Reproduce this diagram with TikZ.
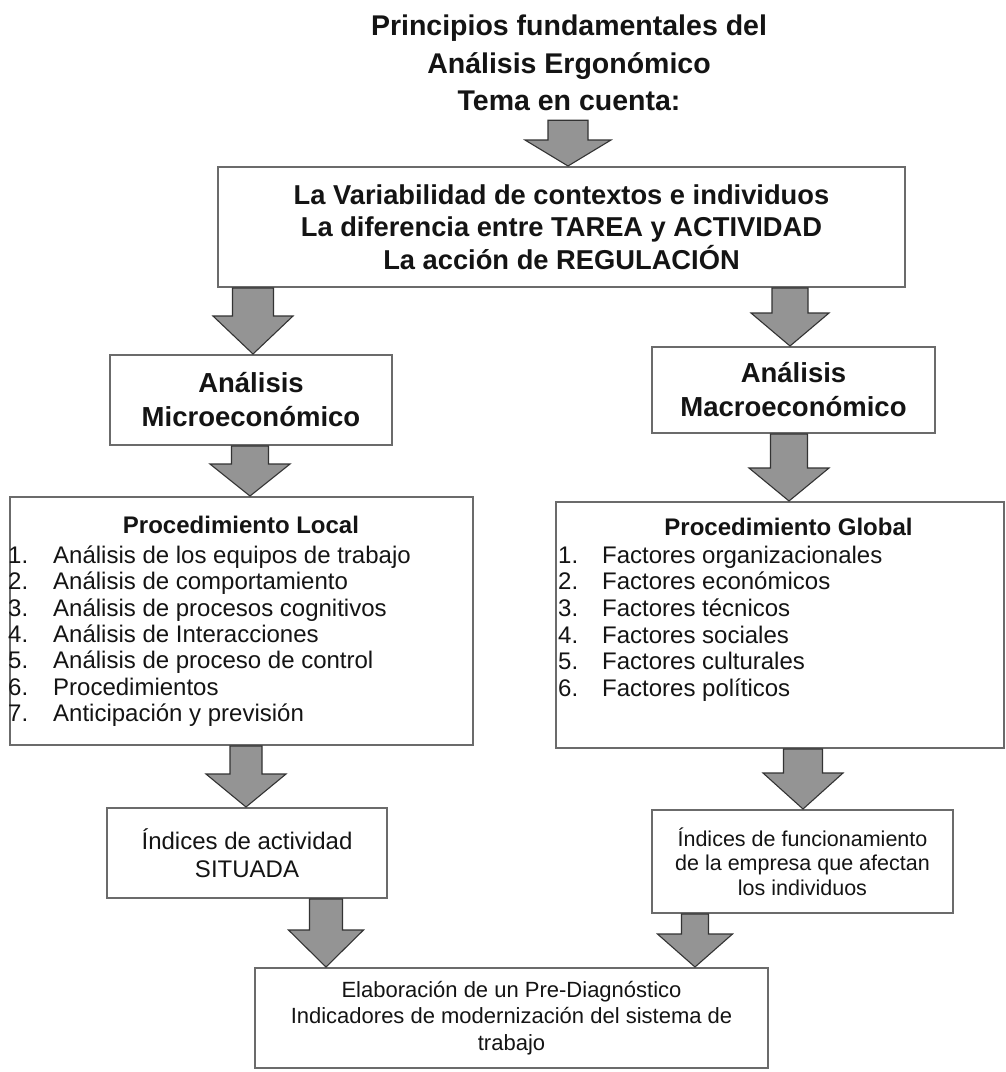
\documentclass[tikz,border=0pt]{standalone}
\usepackage{fontspec}
\setmainfont{Liberation Sans}
\usetikzlibrary{calc}

% font sizes (1pt = 1 unit of the picture)
\newcommand\titlefont{\fontsize{28.5}{37.5}\selectfont\bfseries}
\newcommand\topfont{\fontsize{27.3}{32.5}\selectfont\bfseries}
\newcommand\anafont{\fontsize{27.5}{34}\selectfont\bfseries}
\newcommand\headfont{\fontsize{24}{26}\selectfont\bfseries}
\newcommand\itemfont{\fontsize{24}{26.3}\selectfont}
\newcommand\idxfont{\fontsize{24}{28}\selectfont}
\newcommand\idxsmallfont{\fontsize{21.5}{24.5}\selectfont}
\newcommand\botfont{\fontsize{22}{26.5}\selectfont}

\tikzset{
  frame/.style={draw=black!58, line width=2pt, fill=white, inner sep=0pt,
                align=center, text=black!92},
  fatarrowstyle/.style={fill=black!42, draw=black!80, line width=1.1pt, line join=miter},
  txt/.style={inner sep=0pt, anchor=base west, text=black!92},
  ttl/.style={inner sep=0pt, anchor=base, font=\titlefont, text=black!92},
}

% block arrow from the bottom of node #1 to the top of node #2
% #3 axis x, #4 half shaft width, #5 half head width, #6 head length
\newcommand\fatarrow[6]{%
  \filldraw[fatarrowstyle] let \p1=(#1.south), \p2=(#2.north) in
    ({#3pt-#4pt},\y1) -- ({#3pt+#4pt},\y1) -- ({#3pt+#4pt},{\y2+#6pt})
    -- ({#3pt+#5pt},{\y2+#6pt}) -- (#3pt,\y2) -- ({#3pt-#5pt},{\y2+#6pt})
    -- ({#3pt-#4pt},{\y2+#6pt}) -- cycle;}

\begin{document}
\begin{tikzpicture}[x=1pt,y=-1pt]
\useasboundingbox (0,0) rectangle (1006,1072);
\fill[white] (0,0) rectangle (1006,1072);

% heading
\node[ttl] (t1) at (569,35) {Principios fundamentales del};
\node[ttl] (t2) at (569,73) {Análisis Ergonómico};
\node[ttl, text depth=10pt] (t3) at (569,110) {Tema en cuenta:};

% boxes
\node[frame, minimum width=687pt, minimum height=120pt, font=\topfont] (top) at (561.5,227)
  {La Variabilidad de contextos e individuos\\La diferencia entre TAREA y ACTIVIDAD\\La acción de REGULACIÓN};
\node[frame, minimum width=282pt, minimum height=90pt, font=\anafont] (micro) at (251,400)
  {Análisis\\Microeconómico};
\node[frame, minimum width=283pt, minimum height=86pt, font=\anafont] (macro) at (793.5,390)
  {Análisis\\Macroeconómico};
\node[frame, minimum width=463pt, minimum height=248pt] (local) at (241.5,621) {};
\node[frame, minimum width=448pt, minimum height=246pt] (global) at (780,625) {};
\node[frame, minimum width=280pt, minimum height=90pt, font=\idxfont] (idxL) at (247,853)
  {Índices de actividad\\SITUADA};
\node[frame, minimum width=301pt, minimum height=103pt, font=\idxsmallfont] (idxR) at (802.5,861.5)
  {Índices de funcionamiento\\de la empresa que afectan\\los individuos};
\node[frame, minimum width=513pt, minimum height=100pt, font=\botfont] (bottom) at (511.5,1018)
  {Elaboración de un Pre-Diagnóstico\\Indicadores de modernización del sistema de\\trabajo};

% local procedure list
\node[inner sep=0pt, anchor=base, font=\headfont, text=black!92] (lhead) at (241,533) {Procedimiento Local};
\foreach \s [count=\k] in {Análisis de los equipos de trabajo, Análisis de comportamiento,
    Análisis de procesos cognitivos, Análisis de Interacciones, Análisis de proceso de control,
    Procedimientos, Anticipación y previsión} {
  \node[txt, font=\itemfont] (ln\k) at (8, {563.6+26.3*(\k-1)}) {\k.};
  \node[txt, font=\itemfont] (lt\k) at (53, {563.6+26.3*(\k-1)}) {\s};
}

% global procedure list
\node[inner sep=0pt, anchor=base, font=\headfont, text=black!92] (ghead) at (788.5,535) {Procedimiento Global};
\foreach \s [count=\k] in {Factores organizacionales, Factores económicos, Factores técnicos,
    Factores sociales, Factores culturales, Factores políticos} {
  \node[txt, font=\itemfont] (gn\k) at (558, {563.3+26.6*(\k-1)}) {\k.};
  \node[txt, font=\itemfont] (gt\k) at (602, {563.3+26.6*(\k-1)}) {\s};
}

% block arrows
\fatarrow{t3}{top}{568}{20}{43}{26}
\fatarrow{top}{micro}{253}{20.5}{40}{38}
\fatarrow{top}{macro}{790}{18}{39}{33}
\fatarrow{micro}{local}{250}{18.5}{40}{32}
\fatarrow{macro}{global}{789}{18.5}{40}{33}
\fatarrow{local}{idxL}{246}{16}{40}{33}
\fatarrow{global}{idxR}{803}{19.5}{40}{36}
\fatarrow{idxL}{bottom}{326}{16.5}{37.5}{37}
\fatarrow{idxR}{bottom}{695}{13.5}{37.5}{33}
\end{tikzpicture}
\end{document}
